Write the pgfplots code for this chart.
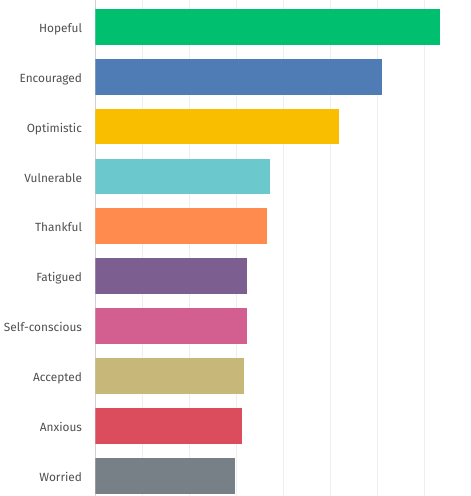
\documentclass[border=0pt]{standalone}
\usepackage{pgfplots}
\pgfplotsset{compat=1.18}
\usepackage{fontspec}
\setmainfont{Fira Sans}
\definecolor{cHop}{HTML}{00BF6F}
\definecolor{cEnc}{HTML}{507CB6}
\definecolor{cOpt}{HTML}{F9BE00}
\definecolor{cVul}{HTML}{6BC8CD}
\definecolor{cTha}{HTML}{FF8B4F}
\definecolor{cFat}{HTML}{7D5E90}
\definecolor{cSel}{HTML}{D25F90}
\definecolor{cAcc}{HTML}{C7B879}
\definecolor{cAnx}{HTML}{DB4D5C}
\definecolor{cWor}{HTML}{768086}
\definecolor{gridc}{HTML}{EDEEEF}
\definecolor{axc}{HTML}{D0D2D3}
\definecolor{txt}{HTML}{4F4F4F}
\begin{document}
\begin{tikzpicture}
\begin{axis}[
  name=ax,
  scale only axis,
  width=375.5bp, height=496bp,
  xbar, bar shift=0pt, bar width=35.8bp,
  xmin=0, xmax=80,
  ymin=-0.405, ymax=9.537,
  xtick={0,10,...,80}, xticklabels={},
  xmajorgrids, major grid style={gridc, line width=0.8pt},
  ytick={0,...,9},
  yticklabels={Worried,Anxious,Accepted,Self-conscious,Fatigued,Thankful,Vulnerable,Optimistic,Encouraged,Hopeful},
  yticklabel style={font=\fontsize{11.9}{14}\selectfont, text=txt, xshift=-10bp, yshift=-1.5bp,
    anchor=east, text height=8.2bp, text depth=0pt, inner ysep=0pt},
  major tick length=0pt,
  axis x line*=bottom, axis y line*=left,
  x axis line style={draw=none},
  y axis line style={draw=axc, line width=0.8pt},
  axis line style={-},
]
\addplot[fill=cHop, draw=none] coordinates {(73.3,9)};
\addplot[fill=cEnc, draw=none] coordinates {(61.0,8)};
\addplot[fill=cOpt, draw=none] coordinates {(51.8,7)};
\addplot[fill=cVul, draw=none] coordinates {(37.1,6)};
\addplot[fill=cTha, draw=none] coordinates {(36.5,5)};
\addplot[fill=cFat, draw=none] coordinates {(32.2,4)};
\addplot[fill=cSel, draw=none] coordinates {(32.2,3)};
\addplot[fill=cAcc, draw=none] coordinates {(31.6,2)};
\addplot[fill=cAnx, draw=none] coordinates {(31.2,1)};
\addplot[fill=cWor, draw=none] coordinates {(29.7,0)};
\end{axis}
\pgfresetboundingbox
\path (ax.south west) ++(-95.5bp,0) rectangle (ax.north east);
\end{tikzpicture}
\end{document}
